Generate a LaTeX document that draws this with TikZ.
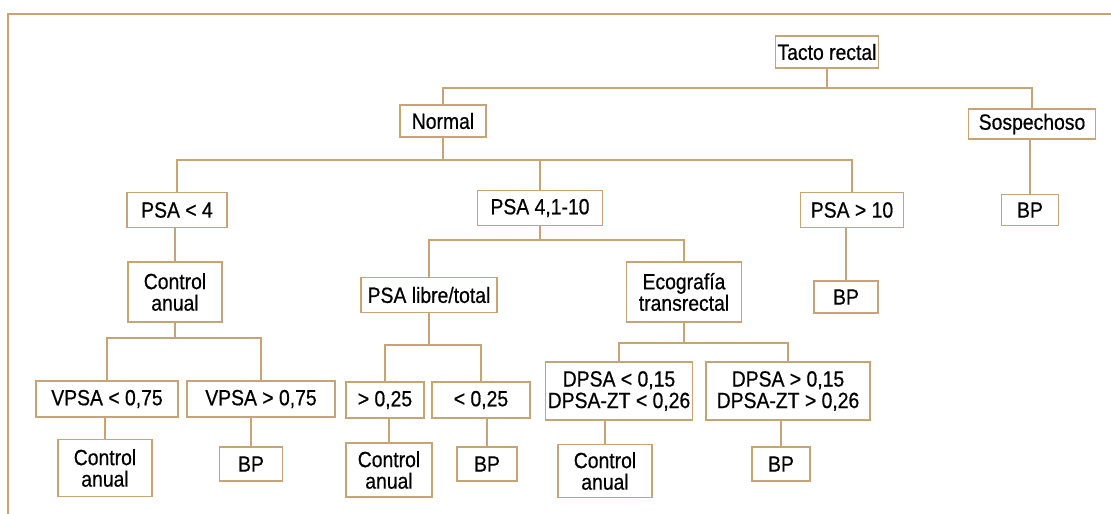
\documentclass[tikz,border=0pt]{standalone}
\usepackage{fontspec}
\setmainfont{Liberation Sans}[FakeStretch=0.88,FakeBold=0.6]
\usepackage{tikz}
\definecolor{marco}{RGB}{198,164,118}
\tikzset{
  caja/.style={draw=marco, line width=1.2pt, fill=white, align=center, inner sep=2pt, font=\fontsize{22}{21.5}\selectfont},
  linea/.style={draw=marco, line width=1.2pt}
}

\begin{document}
\begin{tikzpicture}[x=1pt,y=-1pt]
\useasboundingbox (0,0) rectangle (1111,514);
\draw[linea, line width=1.6pt] (8,514) -- (8,14) -- (1111,14);

\node[caja, minimum width=98, minimum height=32] (tacto) at (827,52) {Tacto rectal};
\node[caja, minimum width=86, minimum height=32] (normal) at (443,121) {Normal};
\node[caja, minimum width=127, minimum height=30] (sosp) at (1032,124) {Sospechoso};

\node[caja, minimum width=100, minimum height=35] (psa4) at (177,210) {PSA < 4};
\node[caja, minimum width=125, minimum height=35] (psa410) at (540,208) {PSA 4,1-10};
\node[caja, minimum width=103, minimum height=35] (psa10) at (852,210) {PSA > 10};
\node[caja, minimum width=57, minimum height=31] (bps) at (1030,210) {BP};

\node[caja, minimum width=94, minimum height=60] (ctrl1) at (175,292) {Control\\anual};
\node[caja, minimum width=136, minimum height=35] (libre) at (429,295) {PSA libre/total};
\node[caja, minimum width=115, minimum height=60] (eco) at (684,292) {Ecografía\\transrectal};
\node[caja, minimum width=64, minimum height=32] (bp10) at (846,297) {BP};

\node[caja, minimum width=142, minimum height=36] (vpsamen) at (107,399) {VPSA < 0,75};
\node[caja, minimum width=148, minimum height=36] (vpsamay) at (261,399) {VPSA > 0,75};
\node[caja, minimum width=78, minimum height=36] (mayor025) at (385,400) {> 0,25};
\node[caja, minimum width=98, minimum height=36] (menor025) at (481,400) {< 0,25};
\node[caja, minimum width=141, minimum height=58] (dpsamen) at (619,391) {DPSA < 0,15\\DPSA-ZT < 0,26};
\node[caja, minimum width=164, minimum height=58] (dpsamay) at (788,391) {DPSA > 0,15\\DPSA-ZT > 0,26};

\node[caja, minimum width=94, minimum height=57] (ctrl2) at (105,468) {Control\\anual};
\node[caja, minimum width=63, minimum height=34] (bp2) at (251,464) {BP};
\node[caja, minimum width=86, minimum height=54] (ctrl3) at (389,470) {Control\\anual};
\node[caja, minimum width=60, minimum height=34] (bp3) at (487,464) {BP};
\node[caja, minimum width=94, minimum height=53] (ctrl4) at (605,471) {Control\\anual};
\node[caja, minimum width=58, minimum height=34] (bp4) at (781,464) {BP};

% ramas
\coordinate (r0) at (827,88);
\draw[linea] (tacto) -- (r0);
\draw[linea] (normal.north) |- (r0) -| (sosp.north);

\coordinate (r1) at (443,160);
\draw[linea] (normal) -- (r1);
\draw[linea] (psa4.north) |- (r1) -| (psa10.north);
\draw[linea] (psa410.north) -- (psa410.north |- r1);

\coordinate (r2) at (540,240);
\draw[linea] (psa410) -- (r2);
\draw[linea] (libre.north) |- (r2) -| (eco.north);

\coordinate (r3) at (175,338);
\draw[linea] (ctrl1) -- (r3);
\draw[linea] (vpsamen.north) |- (r3) -| (vpsamay.north);

\coordinate (r4) at (429,345);
\draw[linea] (libre) -- (r4);
\draw[linea] (mayor025.north) |- (r4) -| (menor025.north);

\coordinate (r5) at (684,343);
\draw[linea] (eco) -- (r5);
\draw[linea] (dpsamen.north) |- (r5) -| (dpsamay.north);

\foreach \a/\b in {sosp/bps, psa4/ctrl1, psa10/bp10, vpsamen/ctrl2, vpsamay/bp2,
                   mayor025/ctrl3, menor025/bp3, dpsamen/ctrl4, dpsamay/bp4}
  \draw[linea] (\b.north) -- (\b.north |- \a.south);
\end{tikzpicture}
\end{document}
